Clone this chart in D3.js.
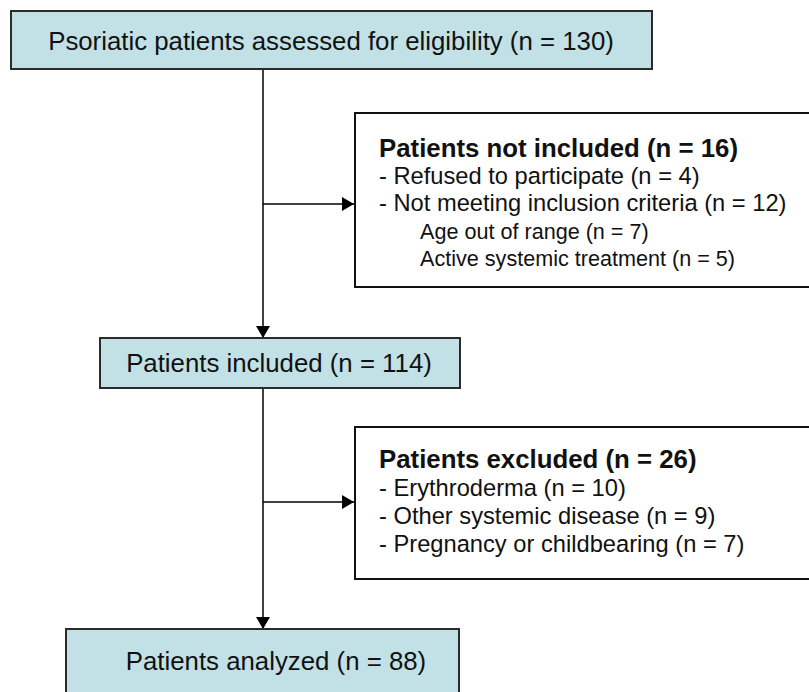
<!DOCTYPE html>
<html>
<head>
<meta charset="utf-8">
<script src="https://cdn.jsdelivr.net/npm/d3@7"></script>
<style>
  body { margin: 0; background: #fff; }
  svg { display: block; font-family: "Liberation Sans", Arial, sans-serif; }
</style>
</head>
<body>
<svg id="flow" width="809" height="692"></svg>
<script>
// flow stages (main column) and their counts
const stages = ["Psoriatic patients assessed for eligibility", "Patients included", "Patients analyzed"];
const stageN = [130, 114, 88];

// side boxes
const sideTitles = ["Patients not included", "Patients excluded"];
const sideN = [16, 26];
const notIncluded = [
	{ label: "Refused to participate", n: 4, level: 0 },
	{ label: "Not meeting inclusion criteria", n: 12, level: 0 },
	{ label: "Age out of range", n: 7, level: 1 },
	{ label: "Active systemic treatment", n: 5, level: 1 },
];
const excluded = [
	{ label: "Erythroderma", n: 10, level: 0 },
	{ label: "Other systemic disease", n: 9, level: 0 },
	{ label: "Pregnancy or childbearing", n: 7, level: 0 },
];

const svg = d3.select("#flow");
const fill = "#c1e1e6";
const spineX = 263;

// arrow marker
svg.append("defs")
	.append("marker")
	.attr("id", "head")
	.attr("viewBox", "0 0 12 14")
	.attr("refX", 12)
	.attr("refY", 7)
	.attr("markerWidth", 12)
	.attr("markerHeight", 14)
	.attr("markerUnits", "userSpaceOnUse")
	.attr("orient", "auto")
	.append("path")
	.attr("d", "M0,0L12,7L0,14Z")
	.attr("fill", "#000");

// main boxes
const mainBoxes = [
	{ x: 11, y: 11, w: 641, h: 58, tx: 331, ty: 50 },
	{ x: 100, y: 338, w: 360, h: 50, tx: 279, ty: 372 },
	{ x: 66, y: 629, w: 393, h: 80, tx: 276, ty: 670 },
];

const lines = svg.append("g").attr("stroke", "#000").attr("stroke-width", 1.5);
// vertical spine segments
lines.append("line").attr("x1", spineX).attr("x2", spineX)
	.attr("y1", mainBoxes[0].y + mainBoxes[0].h).attr("y2", mainBoxes[1].y)
	.attr("marker-end", "url(#head)");
lines.append("line").attr("x1", spineX).attr("x2", spineX)
	.attr("y1", mainBoxes[1].y + mainBoxes[1].h).attr("y2", mainBoxes[2].y)
	.attr("marker-end", "url(#head)");

const sideBoxes = [
	{ x: 355, y: 113, w: 460, h: 174, arrowY: 204, ty: 157, step: 27.2, items: notIncluded },
	{ x: 355, y: 427, w: 460, h: 152, arrowY: 502, ty: 468, step: 28, items: excluded },
];

sideBoxes.forEach((b) => {
	lines.append("line").attr("x1", spineX).attr("x2", b.x - 1)
		.attr("y1", b.arrowY).attr("y2", b.arrowY)
		.attr("marker-end", "url(#head)");
});

// draw main boxes
const mg = svg.selectAll(".main").data(mainBoxes).enter().append("g").attr("class", "main");
mg.append("rect")
	.attr("x", (d) => d.x).attr("y", (d) => d.y)
	.attr("width", (d) => d.w).attr("height", (d) => d.h)
	.attr("fill", fill).attr("stroke", "#2b2b2b").attr("stroke-width", 2);
mg.append("text")
	.attr("x", (d) => d.tx).attr("y", (d) => d.ty)
	.attr("text-anchor", "middle")
	.attr("font-size", 25.8)
	.attr("fill", "#111")
	.text((d, i) => `${stages[i]} (n = ${stageN[i]})`);

// draw side boxes
const sg = svg.selectAll(".side").data(sideBoxes).enter().append("g").attr("class", "side");
sg.append("rect")
	.attr("x", (d) => d.x).attr("y", (d) => d.y)
	.attr("width", (d) => d.w).attr("height", (d) => d.h)
	.attr("fill", "#fff").attr("stroke", "#111").attr("stroke-width", 2);
sg.append("text")
	.attr("x", 379).attr("y", (d) => d.ty)
	.attr("font-size", 25.8).attr("font-weight", "bold")
	.attr("fill", "#111")
	.text((d, i) => `${sideTitles[i]} (n = ${sideN[i]})`);
sg.each(function (b) {
	d3.select(this).selectAll(".item").data(b.items).enter()
		.append("text")
		.attr("class", "item")
		.attr("x", (d) => (d.level ? 420 : 379))
		.attr("y", (d, i) => b.ty + b.step * (i + 1))
		.attr("font-size", (d) => (d.level ? 21.6 : 23.7))
		.attr("fill", "#111")
		.text((d) => `${d.level ? "" : "- "}${d.label} (n = ${d.n})`);
});
</script>
</body>
</html>
